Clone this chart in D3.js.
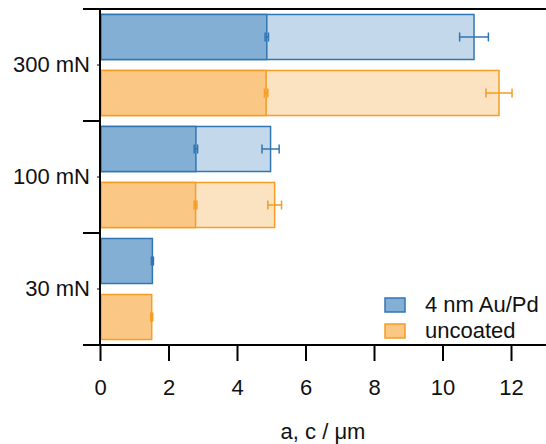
<!DOCTYPE html>
<html>
<head>
<meta charset="utf-8">
<script src="https://cdn.jsdelivr.net/npm/d3@7"></script>
<style>
  html, body { margin: 0; padding: 0; background: #fff; }
  svg { display: block; font-family: "Liberation Sans", Arial, sans-serif; }
</style>
</head>
<body>
<svg id="chart" width="546" height="444"></svg>
<script>
// ---- data ----
const groups = ["300 mN", "100 mN", "30 mN"];
const series = ["4 nm Au/Pd", "uncoated"];
const aCoated = [4.87, 2.80, 1.53];
const aCoatedErr = [0.05, 0.05, 0.03];
const cCoated = [10.92, 4.98, null];
const cCoatedErr = [0.42, 0.25, null];
const aUncoated = [4.85, 2.79, 1.51];
const aUncoatedErr = [0.05, 0.04, 0.03];
const cUncoated = [11.65, 5.10, null];
const cUncoatedErr = [0.38, 0.20, null];
const xTicks = [0, 2, 4, 6, 8, 10, 12];
const xTitle = "a, c / μm";

// ---- styles ----
const colors = {
  "4 nm Au/Pd": { dark: "#84afd4", light: "#c3d8ea", stroke: "#3075b4" },
  "uncoated":   { dark: "#fac784", light: "#fbe3c1", stroke: "#f59d25" }
};
const FS = 22;

const svg = d3.select("#chart");
const x = d3.scaleLinear().domain([0, 13]).range([100, 545.25]);
const y = d3.scaleBand().domain(groups).range([9, 345]).padding(0);
const yInner = d3.scaleBand().domain(series).range([0, y.bandwidth()])
  .paddingInner(0.196).paddingOuter(0.098);

const rows = [];
groups.forEach((g, i) => {
  rows.push({ g, s: series[0], a: aCoated[i], ae: aCoatedErr[i], c: cCoated[i], ce: cCoatedErr[i] });
  rows.push({ g, s: series[1], a: aUncoated[i], ae: aUncoatedErr[i], c: cUncoated[i], ce: cUncoatedErr[i] });
});

const bars = svg.append("g");
const yPos = d => y(d.g) + yInner(d.s);
const bw = yInner.bandwidth();

// light (c) bars
bars.selectAll("rect.c").data(rows.filter(d => d.c != null)).join("rect")
  .attr("class", "c")
  .attr("x", x(0) + 1).attr("y", yPos)
  .attr("width", d => x(d.c) - x(0) - 1).attr("height", bw)
  .attr("fill", d => colors[d.s].light)
  .attr("stroke", d => colors[d.s].stroke).attr("stroke-width", 1.5);

// dark (a) bars
bars.selectAll("rect.a").data(rows).join("rect")
  .attr("class", "a")
  .attr("x", x(0) + 1).attr("y", yPos)
  .attr("width", d => x(d.a) - x(0) - 1).attr("height", bw)
  .attr("fill", d => colors[d.s].dark)
  .attr("stroke", d => colors[d.s].stroke).attr("stroke-width", 1.5);

// error bars
function errBar(sel, val, err) {
  const data = rows.filter(d => d[val] != null);
  const gE = sel.append("g");
  gE.selectAll("line.h").data(data).join("line")
    .attr("x1", d => x(d[val] - d[err])).attr("x2", d => x(d[val] + d[err]))
    .attr("y1", d => yPos(d) + bw / 2).attr("y2", d => yPos(d) + bw / 2)
    .attr("stroke", d => colors[d.s].stroke).attr("stroke-width", 1.5);
  [-1, 1].forEach(sgn => {
    gE.selectAll("line.cap" + sgn).data(data).join("line")
      .attr("x1", d => x(d[val] + sgn * d[err])).attr("x2", d => x(d[val] + sgn * d[err]))
      .attr("y1", d => yPos(d) + bw / 2 - 4.5).attr("y2", d => yPos(d) + bw / 2 + 4.5)
      .attr("stroke", d => colors[d.s].stroke).attr("stroke-width", 1.5);
  });
}
errBar(svg, "a", "ae");
errBar(svg, "c", "ce");

// axes
const axG = svg.append("g").attr("stroke", "#000").attr("stroke-width", 2);
axG.append("line").attr("x1", 83).attr("x2", 546).attr("y1", 9).attr("y2", 9);
axG.append("line").attr("x1", 83).attr("x2", 546).attr("y1", 345).attr("y2", 345);
axG.append("line").attr("x1", x(0)).attr("x2", x(0)).attr("y1", 8).attr("y2", 345);
groups.slice(1).forEach(g => {
  axG.append("line").attr("x1", 83).attr("x2", x(0)).attr("y1", y(g)).attr("y2", y(g));
});
groups.forEach(g => {
  axG.append("line").attr("x1", x(0) - 3).attr("x2", x(0))
    .attr("y1", y(g) + y.bandwidth() / 2).attr("y2", y(g) + y.bandwidth() / 2)
    .attr("stroke-width", 1);
});

// x ticks
const xAxis = svg.append("g").attr("transform", "translate(0,345)")
  .call(d3.axisBottom(x).tickValues(xTicks).tickSize(16).tickPadding(18).tickFormat(d3.format("d")));
xAxis.select(".domain").remove();
xAxis.selectAll(".tick line").attr("stroke", "#000").attr("stroke-width", 2);
xAxis.selectAll(".tick text").attr("font-size", FS).attr("fill", "#111")
  .attr("font-family", "Liberation Sans, Arial, sans-serif");

// y labels
const yAxis = svg.append("g").attr("transform", "translate(90,0)")
  .call(d3.axisLeft(y).tickSize(0).tickPadding(0));
yAxis.select(".domain").remove();
yAxis.selectAll(".tick text").attr("font-size", FS).attr("fill", "#111")
  .attr("font-family", "Liberation Sans, Arial, sans-serif");

// axis title
svg.append("text").attr("x", 323).attr("y", 439).attr("text-anchor", "middle")
  .attr("font-size", FS).attr("fill", "#111").text(xTitle);

// legend
const leg = svg.append("g");
series.forEach((s, i) => {
  const yy = 298 + i * 26;
  leg.append("rect").attr("x", 385).attr("y", yy).attr("width", 20).attr("height", 14)
    .attr("fill", colors[s].dark).attr("stroke", colors[s].stroke).attr("stroke-width", 1.5);
  leg.append("text").attr("x", 425).attr("y", yy + 14).attr("font-size", FS)
    .attr("fill", "#111").text(s);
});
</script>
</body>
</html>
